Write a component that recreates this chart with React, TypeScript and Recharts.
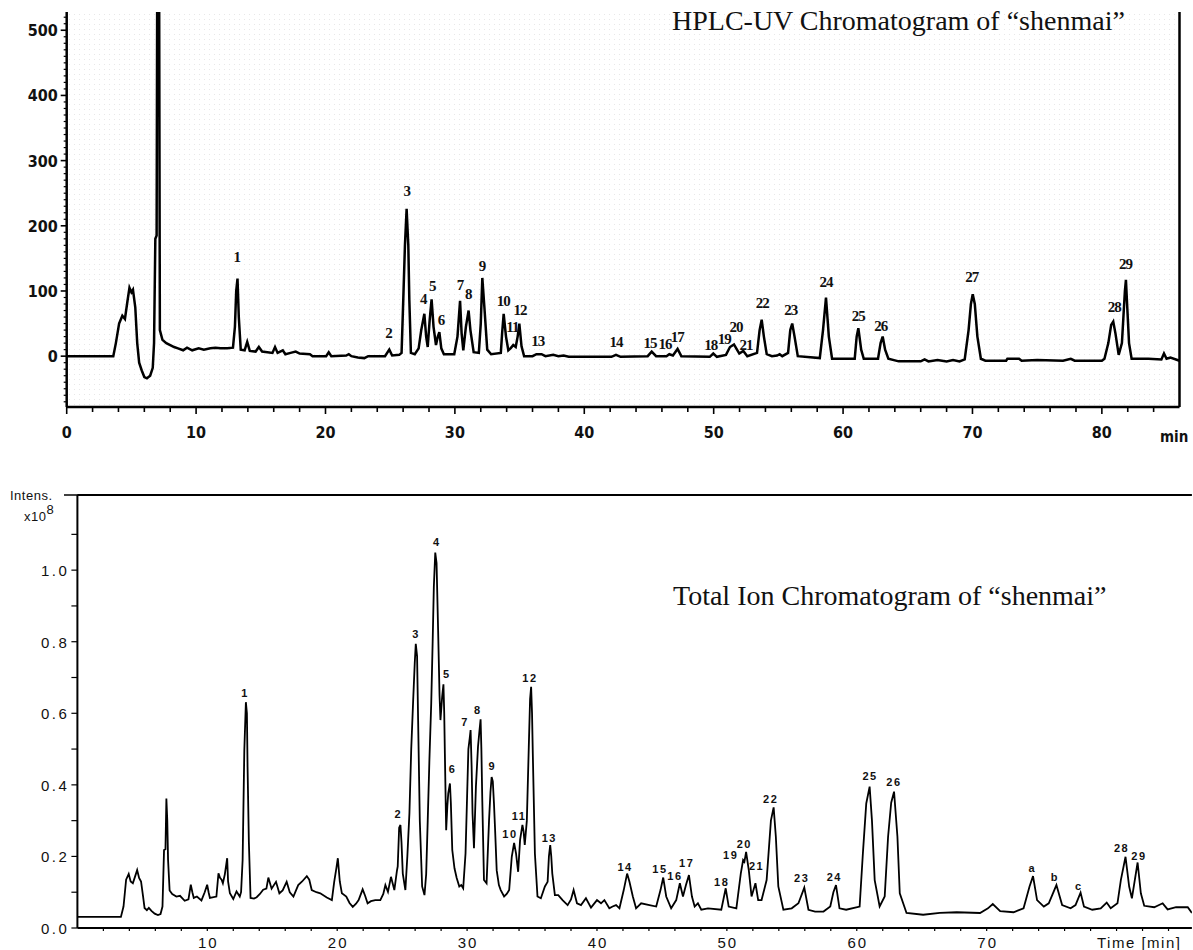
import React from "react";
import { ComposedChart, Line, Scatter, XAxis, YAxis, ReferenceLine } from "recharts";

// HPLC-UV trace: [time (min), absorbance (mAU)]
const uvTrace: [number, number][] = [
  [0, 0], [3.6, 0], [3.8, 20], [4.05, 50], [4.3, 62], [4.5, 57], [4.7, 85], [4.85, 105], [5.0, 98],
  [5.12, 102], [5.3, 75], [5.45, 20], [5.6, -10], [5.8, -22], [6.0, -32], [6.2, -34], [6.45, -30],
  [6.65, -18], [6.75, 20], [6.85, 180], [6.95, 185], [7.02, 800], [7.12, 800], [7.2, 40], [7.4, 25],
  [7.7, 20], [8.0, 17], [8.3, 14], [8.6, 12], [9.0, 9], [9.3, 13], [9.7, 9], [10.2, 12], [10.6, 10],
  [11.1, 12], [11.5, 13], [11.9, 12], [12.4, 12], [12.85, 13], [13.0, 45], [13.1, 100], [13.2, 119],
  [13.3, 60], [13.45, 10], [13.75, 9], [13.95, 22], [14.15, 8], [14.6, 7], [14.85, 14], [15.1, 7],
  [15.9, 5], [16.1, 14], [16.3, 5], [16.7, 9], [16.9, 3], [17.3, 5], [17.7, 7], [18.0, 4], [18.8, 3],
  [19.0, 0], [20.05, 0], [20.25, 6], [20.45, 0], [21.6, 1], [21.8, 3], [22.0, 0], [22.5, -2], [23.0, -3],
  [23.3, 0], [24.6, 0], [24.93, 10], [25.15, 1], [25.7, 2], [25.88, 5], [26.01, 86], [26.14, 170],
  [26.27, 226], [26.4, 170], [26.48, 86], [26.6, 5], [26.9, 3], [27.2, 12], [27.4, 40], [27.64, 65],
  [27.78, 30], [27.9, 14], [28.05, 55], [28.2, 87], [28.35, 45], [28.54, 17], [28.68, 30], [28.8, 37],
  [28.95, 12], [29.15, 3], [29.95, 3], [30.2, 30], [30.4, 85], [30.52, 35], [30.65, 9], [30.85, 45],
  [31.06, 70], [31.2, 40], [31.45, 6], [31.85, 5], [32.0, 50], [32.12, 120], [32.28, 75], [32.5, 10],
  [32.8, 3], [33.55, 5], [33.65, 35], [33.77, 65], [33.95, 30], [34.13, 9], [34.3, 12], [34.51, 17],
  [34.7, 14], [34.85, 30], [34.98, 50], [35.15, 15], [35.35, 0], [36.0, 0], [36.3, 3], [36.7, 3],
  [37.0, 0], [37.6, 2], [38.0, 0], [38.4, 1], [38.8, -1], [42.1, -1], [42.45, 2], [42.8, -1], [44.9, 0],
  [45.21, 7], [45.55, 0], [46.35, 0], [46.57, 3], [46.85, 1], [47.21, 11], [47.5, 0], [49.7, -1],
  [49.97, 4], [50.25, -1], [50.95, 2], [51.26, 14], [51.57, 18], [51.8, 10], [51.98, 4], [52.29, 8],
  [52.6, 0], [53.35, 5], [53.55, 40], [53.71, 56], [53.88, 30], [54.1, 3], [54.5, 0], [54.9, 1],
  [55.1, 3], [55.3, 0], [55.75, 5], [55.92, 40], [56.07, 50], [56.25, 30], [56.5, 0], [58.2, -3],
  [58.45, 40], [58.68, 90], [58.9, 30], [59.15, -4], [60.9, -4], [61.05, 30], [61.18, 43], [61.4, 10],
  [61.6, -4], [62.7, -4], [62.9, 20], [63.06, 30], [63.25, 10], [63.5, -4], [64.3, -8], [66.0, -8],
  [66.3, -5], [66.6, -8], [67.3, -6], [68.0, -8], [68.5, -6], [69.0, -8], [69.4, -5], [69.7, 40],
  [69.88, 80], [70.02, 95], [70.18, 80], [70.38, 30], [70.65, -4], [71.0, -7], [72.6, -7], [72.7, -4],
  [73.6, -4], [73.8, -7], [75.0, -6], [77.0, -7], [77.6, -4], [77.9, -7], [80.0, -7], [80.2, -4],
  [80.5, 20], [80.72, 48], [80.88, 53], [81.05, 35], [81.3, 2], [81.55, 20], [81.78, 100], [81.86, 117],
  [81.95, 80], [82.1, 20], [82.3, -4], [83.6, -4], [84.6, -5], [84.8, 4], [85.0, -4], [85.3, -2], [86, -7],
];

// peak numbers on the UV trace: [label, time, label height]
const uvPeakLabels: [string, number, number][] = [
  ["1", 13.14, 152], ["2", 24.86, 35], ["3", 26.28, 253], ["4", 27.56, 88], ["5", 28.26, 107],
  ["6", 28.93, 56], ["7", 30.39, 109], ["8", 31.03, 95], ["9", 32.09, 138], ["10", 33.74, 85],
  ["11", 34.44, 44], ["12", 35.03, 71], ["13", 36.4, 24], ["14", 42.45, 21], ["15", 45.08, 20],
  ["16", 46.23, 19], ["17", 47.19, 29], ["18", 49.77, 17], ["19", 50.82, 26], ["20", 51.72, 44],
  ["21", 52.5, 17], ["22", 53.76, 82], ["23", 55.95, 71], ["24", 58.68, 114], ["25", 61.18, 62],
  ["26", 62.91, 47], ["27", 69.94, 121], ["28", 80.96, 75], ["29", 81.83, 141],
];

// Total ion chromatogram: [time (min), intensity x10^8]
const ticTrace: [number, number][] = [
  [0, 0.031], [3.35, 0.031], [3.55, 0.06], [3.75, 0.135], [3.95, 0.151], [4.1, 0.13], [4.27, 0.125],
  [4.45, 0.145], [4.6, 0.162], [4.75, 0.14], [4.9, 0.13], [5.05, 0.09], [5.17, 0.056], [5.35, 0.05],
  [5.5, 0.056], [5.7, 0.048], [5.95, 0.04], [6.2, 0.036], [6.4, 0.039], [6.55, 0.06], [6.67, 0.218],
  [6.78, 0.22], [6.85, 0.362], [6.92, 0.3], [6.98, 0.19], [7.1, 0.105], [7.3, 0.095], [7.62, 0.088],
  [7.9, 0.09], [8.26, 0.076], [8.55, 0.08], [8.73, 0.121], [8.85, 0.1], [8.96, 0.084], [9.2, 0.088],
  [9.55, 0.077], [9.8, 0.1], [9.99, 0.121], [10.1, 0.1], [10.2, 0.084], [10.7, 0.088], [10.86, 0.153],
  [10.98, 0.14], [11.1, 0.135], [11.2, 0.125], [11.35, 0.15], [11.53, 0.195], [11.6, 0.13],
  [11.74, 0.097], [12.0, 0.081], [12.25, 0.102], [12.5, 0.088], [12.6, 0.1], [12.72, 0.19],
  [12.85, 0.497], [12.97, 0.631], [13.05, 0.6], [13.1, 0.45], [13.2, 0.241], [13.33, 0.084],
  [13.6, 0.082], [13.8, 0.086], [14.05, 0.095], [14.3, 0.107], [14.55, 0.11], [14.7, 0.141],
  [14.95, 0.11], [15.29, 0.129], [15.55, 0.097], [15.8, 0.105], [16.11, 0.129], [16.35, 0.1],
  [16.63, 0.088], [17.0, 0.12], [17.3, 0.13], [17.66, 0.145], [17.85, 0.135], [18.04, 0.106],
  [18.4, 0.1], [18.7, 0.097], [19.2, 0.085], [19.59, 0.078], [19.77, 0.129], [19.95, 0.17],
  [20.05, 0.195], [20.2, 0.13], [20.36, 0.097], [20.7, 0.088], [20.95, 0.07], [21.2, 0.059],
  [21.45, 0.068], [21.65, 0.078], [21.96, 0.108], [22.15, 0.09], [22.34, 0.069], [22.6, 0.075],
  [22.93, 0.078], [23.32, 0.078], [23.55, 0.095], [23.71, 0.12], [23.91, 0.101], [24.14, 0.143],
  [24.4, 0.106], [24.6, 0.16], [24.66, 0.172], [24.77, 0.28], [24.87, 0.288], [24.95, 0.24],
  [25.05, 0.152], [25.25, 0.106], [25.4, 0.2], [25.56, 0.32], [25.7, 0.5], [25.85, 0.637],
  [25.97, 0.74], [26.05, 0.794], [26.15, 0.76], [26.23, 0.581], [26.36, 0.3], [26.54, 0.116],
  [26.72, 0.092], [26.85, 0.15], [26.97, 0.3], [27.1, 0.47], [27.24, 0.628], [27.35, 0.8],
  [27.44, 0.953], [27.55, 1.049], [27.65, 1.02], [27.77, 0.832], [27.88, 0.65], [27.95, 0.581],
  [28.08, 0.646], [28.18, 0.681], [28.24, 0.6], [28.29, 0.487], [28.39, 0.273], [28.48, 0.34],
  [28.55, 0.376], [28.68, 0.404], [28.75, 0.35], [28.86, 0.218], [29.03, 0.167], [29.2, 0.14],
  [29.4, 0.116], [29.55, 0.12], [29.7, 0.111], [29.88, 0.208], [30.0, 0.367], [30.1, 0.5],
  [30.2, 0.53], [30.27, 0.553], [30.35, 0.45], [30.42, 0.32], [30.53, 0.223], [30.68, 0.395],
  [30.84, 0.506], [30.95, 0.55], [31.04, 0.583], [31.1, 0.5], [31.17, 0.357], [31.3, 0.134],
  [31.5, 0.125], [31.69, 0.3], [31.8, 0.38], [31.89, 0.422], [31.98, 0.41], [32.07, 0.348],
  [32.15, 0.28], [32.28, 0.161], [32.45, 0.12], [32.59, 0.106], [32.85, 0.088], [33.05, 0.095],
  [33.24, 0.106], [33.44, 0.199], [33.62, 0.238], [33.77, 0.208], [33.93, 0.157], [34.08, 0.246],
  [34.26, 0.288], [34.35, 0.27], [34.44, 0.232], [34.6, 0.3], [34.75, 0.506], [34.85, 0.64],
  [34.93, 0.674], [35.0, 0.6], [35.06, 0.487], [35.22, 0.208], [35.42, 0.088], [35.68, 0.083],
  [35.99, 0.116], [36.2, 0.129], [36.3, 0.2], [36.4, 0.232], [36.48, 0.2], [36.56, 0.152],
  [36.76, 0.092], [37.02, 0.092], [37.35, 0.078], [37.74, 0.064], [38.0, 0.08], [38.2, 0.106],
  [38.46, 0.069], [38.77, 0.064], [39.15, 0.083], [39.54, 0.057], [40.0, 0.078], [40.31, 0.069],
  [40.57, 0.078], [40.95, 0.055], [41.2, 0.06], [41.47, 0.064], [41.73, 0.055], [42.06, 0.106],
  [42.32, 0.152], [42.5, 0.129], [42.76, 0.088], [43.01, 0.055], [43.4, 0.069], [44.04, 0.064],
  [44.56, 0.06], [44.89, 0.106], [45.1, 0.141], [45.33, 0.088], [45.71, 0.055], [46.1, 0.078],
  [46.38, 0.125], [46.62, 0.088], [46.85, 0.12], [47.08, 0.148], [47.31, 0.088], [47.52, 0.06],
  [47.77, 0.069], [48.03, 0.051], [48.55, 0.055], [49.57, 0.051], [49.91, 0.111], [50.14, 0.06],
  [50.73, 0.055], [51.07, 0.152], [51.25, 0.19], [51.35, 0.185], [51.48, 0.213], [51.69, 0.161],
  [51.9, 0.088], [52.2, 0.125], [52.41, 0.078], [52.67, 0.078], [53.06, 0.134], [53.39, 0.3],
  [53.6, 0.337], [53.77, 0.255], [53.96, 0.116], [54.35, 0.051], [54.99, 0.055], [55.51, 0.069],
  [55.96, 0.113], [56.28, 0.051], [56.79, 0.046], [57.44, 0.046], [57.96, 0.06], [58.2, 0.1],
  [58.4, 0.12], [58.67, 0.055], [59.18, 0.051], [60.22, 0.06], [60.47, 0.208], [60.73, 0.348],
  [60.99, 0.395], [61.17, 0.3], [61.38, 0.134], [61.76, 0.06], [62.15, 0.088], [62.41, 0.255],
  [62.65, 0.35], [62.87, 0.381], [63.13, 0.255], [63.31, 0.097], [63.83, 0.042], [65.11, 0.037],
  [66.4, 0.042], [67.69, 0.044], [69.49, 0.042], [70.1, 0.055], [70.47, 0.067], [71.04, 0.047],
  [72.07, 0.044], [72.84, 0.055], [73.3, 0.116], [73.57, 0.145], [73.88, 0.078], [74.4, 0.06],
  [74.78, 0.069], [75.37, 0.12], [75.81, 0.064], [76.46, 0.055], [76.84, 0.064], [77.23, 0.099],
  [77.49, 0.06], [78.13, 0.051], [78.78, 0.055], [79.24, 0.071], [79.55, 0.055], [80.07, 0.069],
  [80.33, 0.134], [80.69, 0.199], [80.97, 0.116], [81.18, 0.083], [81.62, 0.183], [81.87, 0.097],
  [82.13, 0.062], [82.9, 0.058], [83.55, 0.069], [83.93, 0.052], [84.58, 0.058], [85.48, 0.058],
  [85.8, 0.042],
];

const ticPeakLabels: [string, number, number][] = [
  ["1", 12.9, 0.658], ["2", 24.7, 0.318], ["3", 26.07, 0.821], ["4", 27.66, 1.079], ["5", 28.43, 0.709],
  ["6", 28.89, 0.443], ["7", 29.84, 0.575], ["8", 30.82, 0.609], ["9", 31.94, 0.453], ["10", 33.3, 0.262],
  ["11", 34.0, 0.314], ["12", 34.84, 0.7], ["13", 36.33, 0.252], ["14", 42.16, 0.171],
  ["15", 44.85, 0.166], ["16", 46.0, 0.145], ["17", 46.91, 0.181], ["18", 49.6, 0.129],
  ["19", 50.29, 0.204], ["20", 51.34, 0.235], ["21", 52.29, 0.174], ["22", 53.37, 0.36],
  ["23", 55.76, 0.139], ["24", 58.27, 0.143], ["25", 61.02, 0.425], ["26", 62.86, 0.407],
  ["a", 73.51, 0.167], ["b", 75.26, 0.142], ["c", 77.1, 0.117], ["28", 80.39, 0.223], ["29", 81.72, 0.201],
];

const uvXLabels = [0, 10, 20, 30, 40, 50, 60, 70, 80];
const uvYLabels = [0, 100, 200, 300, 400, 500];
const ticXLabels = [10, 20, 30, 40, 50, 60, 70];
const ticYLabels = [0, 0.2, 0.4, 0.6, 0.8, 1.0];

const uvXTicks = Array.from({ length: 43 }, (_, i) => i * 2);
const uvYTicks = Array.from({ length: 60 }, (_, i) => -70 + i * 10);
const ticXTicks = Array.from({ length: 42 }, (_, i) => 2 + i * 2);
const ticYTicks = Array.from({ length: 12 }, (_, i) => Math.round(i * 10) / 100);

const NARROW = "'Liberation Sans Narrow', 'DejaVu Sans Condensed', 'Liberation Sans', sans-serif";
const SANS = "'Liberation Sans', Arial, sans-serif";
const SERIF = "'Liberation Serif', 'Times New Roman', serif";

const uvXTick = (p: any) => {
  const v = p.payload.value;
  const major = uvXLabels.includes(v);
  return (
    <g>
      <line x1={p.x} x2={p.x} y1={p.y} y2={p.y + (major ? 7 : 5)} stroke="#000" strokeWidth={1.6} />
      {major && (
        <text x={p.x} y={p.y + 31} textAnchor="middle" fontFamily={NARROW} fontWeight="bold" fontSize={16} fill="#111">
          {v}
        </text>
      )}
    </g>
  );
};

const uvYTick = (p: any) => {
  const v = p.payload.value;
  const major = uvYLabels.includes(v);
  return (
    <g>
      <line x1={p.x} x2={p.x - (major ? 6 : 3)} y1={p.y} y2={p.y} stroke="#000" strokeWidth={major ? 1.6 : 1.2} />
      {major && (
        <text x={p.x - 9} y={p.y + 6} textAnchor="end" fontFamily={NARROW} fontWeight="bold" fontSize={16} fill="#111">
          {v}
        </text>
      )}
    </g>
  );
};

const ticXTick = (p: any) => {
  const v = p.payload.value;
  const major = ticXLabels.includes(v);
  return (
    <g>
      <line x1={p.x} x2={p.x} y1={p.y} y2={p.y + 3} stroke="#000" strokeWidth={1.2} />
      {major && (
        <text x={p.x + 1} y={p.y + 20} textAnchor="middle" fontFamily={SANS} fontSize={15} letterSpacing={2} fill="#111">
          {v}
        </text>
      )}
    </g>
  );
};

const ticYTick = (p: any) => {
  const v = p.payload.value;
  const major = ticYLabels.some((m) => Math.abs(m - v) < 1e-6);
  return (
    <g>
      <line x1={p.x} x2={p.x - 6} y1={p.y} y2={p.y} stroke="#000" strokeWidth={1.2} />
      {major && (
        <text x={p.x - 8} y={p.y + 6} textAnchor="end" fontFamily={SANS} fontSize={15} letterSpacing={2.5} fill="#111">
          {v.toFixed(1)}
        </text>
      )}
    </g>
  );
};

const uvLabelShape = (p: any) => (
  <text x={p.cx} y={p.cy} textAnchor="middle" dominantBaseline="central" fontFamily={SERIF} fontWeight="bold" fontSize={15} letterSpacing={-1} fill="#111">
    {p.payload.label}
  </text>
);

const ticLabelShape = (p: any) => (
  <text x={p.cx} y={p.cy} textAnchor="middle" dominantBaseline="central" fontFamily={SANS} fontWeight="bold" fontSize={11} letterSpacing={1.5} fill="#111">
    {p.payload.label}
  </text>
);

function UvChart() {
  const data = uvTrace.map(([t, v]) => ({ t, v }));
  const labels = uvPeakLabels.map(([label, t, v]) => ({ label, t, v }));
  return (
    <ComposedChart width={1193} height={455} margin={{ top: 12, right: 13.5, bottom: 47, left: 65.7 }}>
      <XAxis
        type="number"
        dataKey="t"
        domain={[0, 86]}
        allowDataOverflow
        ticks={uvXTicks}
        interval={0}
        height={1}
        tickSize={0}
        tickMargin={0}
        tickLine={false}
        axisLine={{ stroke: "#000", strokeWidth: 2.5 }}
        tick={uvXTick}
      />
      <YAxis
        type="number"
        domain={[-78, 528]}
        allowDataOverflow
        ticks={uvYTicks}
        interval={0}
        width={1}
        tickSize={0}
        tickMargin={0}
        tickLine={false}
        axisLine={{ stroke: "#000", strokeWidth: 2.5 }}
        tick={uvYTick}
      />
      <ReferenceLine x={86} stroke="#000" strokeWidth={2.5} />
      <Line data={data} dataKey="v" type="linear" dot={false} stroke="#000" strokeWidth={2.5} isAnimationActive={false} />
      <Scatter data={labels} dataKey="v" shape={uvLabelShape} isAnimationActive={false} />
    </ComposedChart>
  );
}

function TicChart() {
  const data = ticTrace.map(([t, v]) => ({ t, v }));
  const labels = ticPeakLabels.map(([label, t, v]) => ({ label, t, v }));
  return (
    <ComposedChart width={1193} height={495} margin={{ top: 40, right: 1.1, bottom: 21, left: 76.4 }}>
      <XAxis
        type="number"
        dataKey="t"
        domain={[0, 85.8]}
        allowDataOverflow
        ticks={ticXTicks}
        interval={0}
        height={1}
        tickSize={0}
        tickMargin={0}
        tickLine={false}
        axisLine={{ stroke: "#000", strokeWidth: 2 }}
        tick={ticXTick}
      />
      <YAxis
        type="number"
        domain={[0, 1.21]}
        allowDataOverflow
        ticks={ticYTicks}
        interval={0}
        width={1}
        tickSize={0}
        tickMargin={0}
        tickLine={false}
        axisLine={{ stroke: "#000", strokeWidth: 2 }}
        tick={ticYTick}
      />
      <ReferenceLine y={1.21} stroke="#000" strokeWidth={2} />
      <Line data={data} dataKey="v" type="linear" dot={false} stroke="#000" strokeWidth={1.8} isAnimationActive={false} />
      <Scatter data={labels} dataKey="v" shape={ticLabelShape} isAnimationActive={false} />
    </ComposedChart>
  );
}

export default function App() {
  return (
    <div style={{ position: "absolute", left: 0, top: 0, width: 1193, height: 950, background: "#fff" }}>
      <div
        style={{
          position: "absolute",
          left: 67,
          top: 12,
          width: 1112,
          height: 395,
          backgroundImage: "radial-gradient(circle, rgba(0,0,0,0.09) 0.6px, transparent 1px)",
          backgroundSize: "5px 5px",
        }}
      />
      <div style={{ position: "absolute", left: 0, top: 0 }}>
        <UvChart />
      </div>
      <div style={{ position: "absolute", left: 0, top: 455 }}>
        <TicChart />
      </div>
      <svg width={1193} height={950} style={{ position: "absolute", left: 0, top: 0, pointerEvents: "none" }}>
        <text x={672} y={30} fontFamily={SERIF} fontSize={28} fill="#111">
          HPLC-UV Chromatogram of “shenmai”
        </text>
        <text x={673} y={605} fontFamily={SERIF} fontSize={28} fill="#111">
          Total Ion Chromatogram of “shenmai”
        </text>
        <text x={1160} y={442} fontFamily={NARROW} fontWeight="bold" fontSize={15} fill="#111">
          min
        </text>
        <text x={1097} y={948} fontFamily={SANS} fontSize={15} letterSpacing={1.5} fill="#111">
          Time [min]
        </text>
        <line x1={64} x2={78} y1={495} y2={495} stroke="#000" strokeWidth={1.5} />
        <text x={10} y={500} fontFamily={SANS} fontSize={13} letterSpacing={0.5} fill="#111">
          Intens.
        </text>
        <text x={24} y={521} fontFamily={SANS} fontSize={13} letterSpacing={0.5} fill="#111">
          x10
          <tspan dy={-7} fontSize={13}>8</tspan>
        </text>
      </svg>
    </div>
  );
}
